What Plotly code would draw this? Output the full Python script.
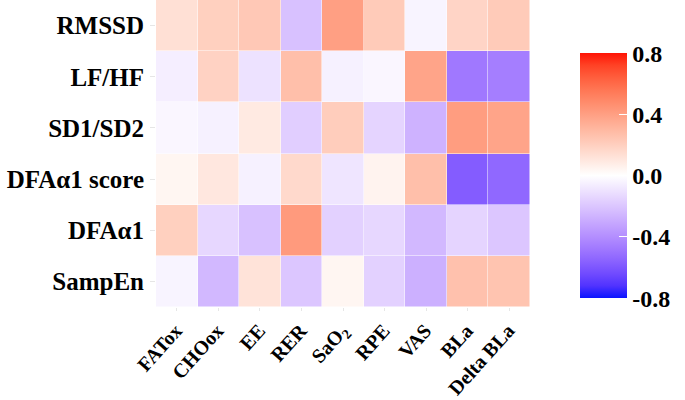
import plotly.graph_objects as go
import numpy as np

variables = ["FATox", "CHOox", "EE", "RER", "SaO<sub>2</sub>", "RPE", "VAS", "BLa", "Delta BLa"]
indices = ["RMSSD", "LF/HF", "SD1/SD2", "DFA\u03b11 score", "DFA\u03b11", "SampEn"]

rmssd     = [0.13, 0.20, 0.23, -0.22, 0.40, 0.22, -0.04, 0.18, 0.22]
lf_hf     = [-0.06, 0.19, -0.10, 0.27, -0.05, -0.03, 0.38, -0.48, -0.46]
sd1_sd2   = [-0.03, -0.05, 0.09, -0.17, 0.21, -0.15, -0.27, 0.41, 0.38]
dfa_score = [0.04, 0.10, -0.05, 0.16, -0.09, 0.05, 0.27, -0.58, -0.54]
dfa_a1    = [0.20, -0.14, -0.22, 0.42, -0.16, -0.14, -0.25, -0.15, -0.20]
sampen    = [-0.04, -0.25, 0.12, -0.20, 0.04, -0.16, -0.28, 0.26, 0.25]

z_values = [rmssd, lf_hf, sd1_sd2, dfa_score, dfa_a1, sampen]

cb_ticks = [0.8, 0.4, 0.0, -0.4, -0.8]
cb_text = ["0.8", "0.4", "0.0", "-0.4", "-0.8"]

# --- Lab-space gradient (blue - white - red), like ggplot's scale_fill_gradient2
def srgb_to_lab(rgb):
    c = np.array(rgb, dtype=float) / 255.0
    c = np.where(c <= 0.04045, c / 12.92, ((c + 0.055) / 1.055) ** 2.4)
    M = np.array([[0.4124, 0.3576, 0.1805], [0.2126, 0.7152, 0.0722], [0.0193, 0.1192, 0.9505]])
    xyz = M @ c
    wp = np.array([0.95047, 1.0, 1.08883])
    t = xyz / wp
    f = np.where(t > (6 / 29) ** 3, np.cbrt(t), t / (3 * (6 / 29) ** 2) + 4 / 29)
    return np.array([116 * f[1] - 16, 500 * (f[0] - f[1]), 200 * (f[1] - f[2])])

def lab_to_srgb(lab):
    L, a, b = lab
    fy = (L + 16) / 116
    fx = fy + a / 500
    fz = fy - b / 200
    def finv(f):
        return f ** 3 if f > 6 / 29 else 3 * (6 / 29) ** 2 * (f - 4 / 29)
    wp = np.array([0.95047, 1.0, 1.08883])
    xyz = np.array([finv(fx), finv(fy), finv(fz)]) * wp
    Minv = np.array([[3.2406, -1.5372, -0.4986], [-0.9689, 1.8758, 0.0415], [0.0557, -0.2040, 1.0570]])
    c = Minv @ xyz
    c = np.clip(c, 0, 1)
    c = np.where(c <= 0.0031308, 12.92 * c, 1.055 * c ** (1 / 2.4) - 0.055)
    c = np.clip(np.round(c * 255), 0, 255).astype(int)
    return "rgb(%d,%d,%d)" % tuple(c)

lab_low = srgb_to_lab((10, 20, 255))
lab_mid = srgb_to_lab((255, 255, 255))
lab_high = srgb_to_lab((255, 20, 5))
colorscale = []
n = 20
for i in range(n + 1):
    s = i / n
    if s <= 0.5:
        t = s / 0.5
        lab = lab_low + (lab_mid - lab_low) * t
    else:
        t = (s - 0.5) / 0.5
        lab = lab_mid + (lab_high - lab_mid) * t
    colorscale.append([s, lab_to_srgb(lab)])

font_family = "Liberation Serif"

fig = go.Figure(go.Heatmap(
    z=z_values,
    x=variables,
    y=indices,
    zmin=-0.8,
    zmax=0.8,
    colorscale=colorscale,
    xgap=0.5,
    ygap=0.5,
    colorbar=dict(
        tickvals=cb_ticks,
        ticktext=cb_text,
        ticks="inside",
        tickcolor="white",
        ticklen=8,
        tickwidth=1,
        outlinewidth=0,
        thickness=47,
        thicknessmode="pixels",
        len=245,
        lenmode="pixels",
        x=1.134,
        xanchor="left",
        y=0.428,
        yanchor="middle",
        xpad=0,
        ypad=0,
        tickfont=dict(family=font_family, size=24, color="black", weight="bold"),
    ),
))

fig.update_layout(
    width=685,
    height=400,
    margin=dict(l=156, r=155, t=0, b=93, autoexpand=False),
    paper_bgcolor="white",
    plot_bgcolor="white",
    font=dict(family=font_family, color="black"),
    xaxis=dict(
        automargin=False,
        tickangle=-48,
        tickfont=dict(family=font_family, size=20, color="black", weight="bold"),
        ticks="outside",
        ticklen=3,
        tickcolor="#e6e6e6",
        ticklabelshift=-1,
        showgrid=False,
        zeroline=False,
        showline=False,
    ),
    yaxis=dict(
        automargin=False,
        autorange="reversed",
        tickfont=dict(family=font_family, size=25, color="black", weight="bold"),
        ticks="outside",
        ticklen=5,
        tickcolor="#e6e6e6",
        ticklabelstandoff=1,
        showgrid=False,
        zeroline=False,
        showline=False,
    ),
)

fig.write_html("out.html", config={"displayModeBar": False},
               post_script="document.body.style.margin='0';")
